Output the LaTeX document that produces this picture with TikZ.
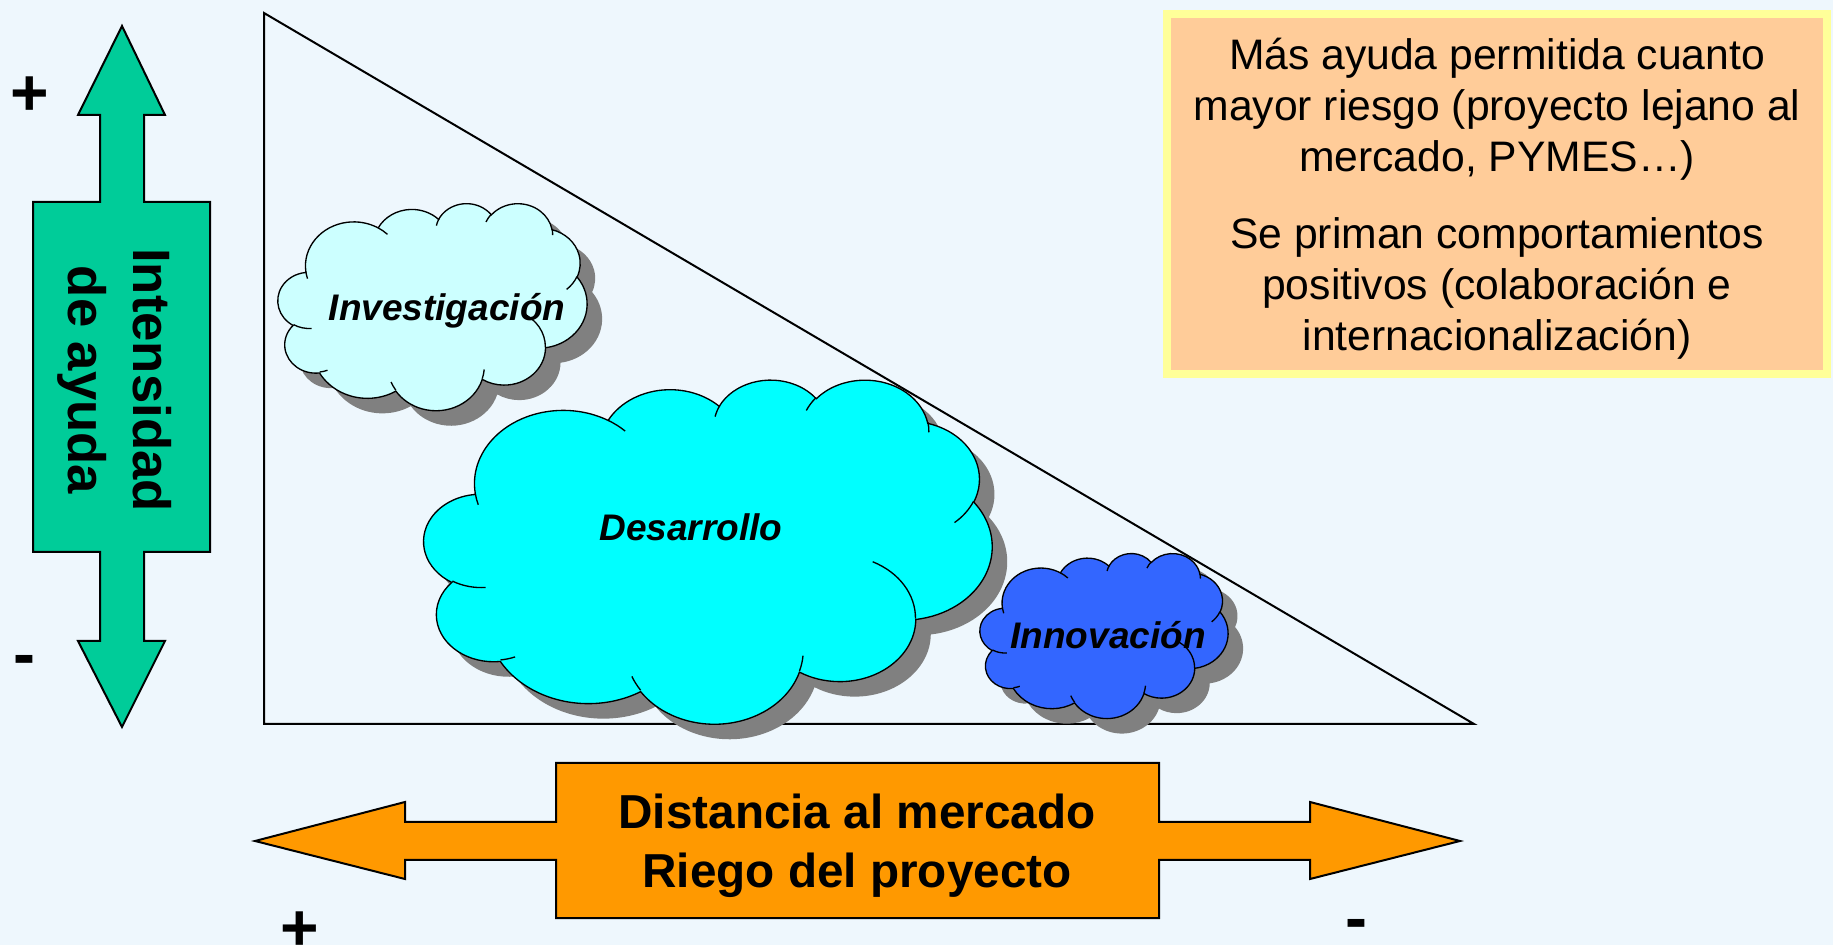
\documentclass[tikz,border=0pt]{standalone}
\usepackage{fontspec}
\setmainfont{Liberation Sans}

\definecolor{bgblue}{RGB}{238,247,253}
\definecolor{aidgreen}{RGB}{0,204,153}
\definecolor{marketorange}{RGB}{255,153,0}
\definecolor{notepeach}{RGB}{255,204,153}
\definecolor{noteyellow}{RGB}{255,255,153}
\definecolor{researchcyan}{RGB}{204,255,255}
\definecolor{devcyan}{RGB}{0,255,255}
\definecolor{innoblue}{RGB}{51,102,255}
\definecolor{shadowgray}{RGB}{128,128,128}

% one puff of the cloud: radii, start angle, sweep (angles measured as seen)
\newcommand\puff[4]{arc[x radius=#1, y radius=#2,
  start angle={atan2((#1)*sin(#3),(#2)*cos(#3))},
  delta angle={mod(atan2((#1)*sin((#3)+(#4)),(#2)*cos((#3)+(#4)))-atan2((#1)*sin(#3),(#2)*cos(#3))+720,360)}]}
% cloud outline in a 432 x 432 box
\newcommand\cloudoutline{(39.00,143.70)
  \puff{67.53}{91.90}{-190.4875}{123.7805}
  \puff{53.33}{72.67}{-144.1024}{89.9452}
  \puff{43.65}{59.45}{-145.8079}{99.7230}
  \puff{48.57}{65.95}{-130.9861}{117.2417}
  \puff{53.33}{72.73}{-78.7089}{109.0269}
  \puff{67.75}{92.20}{-46.2673}{130.2690}
  \puff{57.85}{78.67}{0.6250}{114.0333}
  \puff{67.52}{92.15}{22.4516}{115.1726}
  \puff{77.20}{105.43}{66.2426}{75.7110}
  \puff{43.60}{59.18}{-274.9421}{146.7356}
  \puff{43.45}{59.45}{-246.8285}{152.5189} -- cycle}
% the small creases inside the cloud
\newcommand\cloudcreases{(46.93,261.77) \puff{43.45}{59.45}{86.7420}{26.4295}
  (69.28,348.99) \puff{43.60}{59.18}{73.6105}{11.4475}
  (164.78,390.90) \puff{67.52}{92.15}{137.6242}{14.0811}
  (288.27,347.51) \puff{67.52}{92.15}{6.4533}{15.9984}
  (341.29,229.54) \puff{57.85}{78.67}{-70.2924}{70.9174}
  (417.98,153.54) \puff{53.33}{72.73}{30.3180}{27.7515}
  (383.24,54.26) \puff{48.57}{65.95}{-13.7443}{14.8589}
  (290.78,39.52) \puff{48.57}{65.95}{-149.1815}{18.1954}
  (221.41,47.20) \puff{43.65}{59.45}{-163.4943}{17.6864}
  (140.00,51.92) \puff{67.53}{91.90}{-66.7070}{12.3194}
  (41.27,157.89) \puff{67.53}{91.90}{157.6544}{11.8582}}
% cloud with its shadow: corner x, corner y, x unit, y unit, colour
\newcommand\drawcloud[5]{%
  \begin{scope}[shift={(#1,#2)}, x=#3, y=-#4]
    \fill[cloud_shadow, shift={(4.5pt,-4.5pt)}] \cloudoutline;
    \filldraw[cloud_body, fill=#5] \cloudoutline;
    \draw[cloud_body] \cloudcreases;
  \end{scope}}

\begin{document}
\begin{tikzpicture}[x = 0.3pt, y = -0.3pt,
cloud_shadow/.style = { fill = shadowgray },
cloud_body/.style = { draw = black, line width = 0.4pt },
cloud_txt/.style = { font = \fontsize{11.1}{13}\selectfont\bfseries\itshape, inner sep = 0pt },
big_arrow/.style = { draw = black, line width = 0.6pt },
arrow_txt/.style = { align = center, inner sep = 0pt },
sign/.style = { font = \fontsize{19.8}{22}\selectfont\bfseries, inner sep = 0pt }]
\useasboundingbox (0,0) rectangle (1833,945);
\fill[bgblue] (0,0) rectangle (1833,945);

% triangle
\draw[line width = 0.6pt] (264,13) -- (264,724) -- (1474,724) -- cycle;

% note box
\filldraw[draw = noteyellow, line width = 2.5pt, fill = notepeach] (1167,14) rectangle (1827,374);
\node[align = center, font = \fontsize{12.8}{15.3}\selectfont] (nota) at (1497,199)
{M\'as ayuda permitida cuanto\\ mayor riesgo (proyecto lejano al\\ mercado, PYMES\dots)\\[7.8pt]
Se priman comportamientos\\ positivos (colaboraci\'on e\\ internacionalizaci\'on)};

% vertical arrow
\path[big_arrow, fill = aidgreen] (122,26) -- (165,115) -- (144,115) -- (144,202) -- (210,202)
-- (210,552) -- (144,552) -- (144,641) -- (165,641) -- (122,727) -- (78,641) -- (100,641)
-- (100,552) -- (33,552) -- (33,202) -- (100,202) -- (100,115) -- (78,115) -- cycle;
\node[arrow_txt, rotate = -90, font = \fontsize{15.8}{19.5}\selectfont\bfseries] (intensidad) at (115,380)
{Intensidad\\ de ayuda};
\node[sign] (mas_ayuda) at (30,96) {+};
\node[sign] (menos_ayuda) at (24,666) {-};

% horizontal arrow
\path[big_arrow, fill = marketorange] (255,841) -- (405,802) -- (405,822) -- (556,822) -- (556,763)
-- (1159,763) -- (1159,822) -- (1310,822) -- (1310,802) -- (1460,841) -- (1310,879) -- (1310,860)
-- (1159,860) -- (1159,918) -- (556,918) -- (556,860) -- (405,860) -- (405,879) -- cycle;
\node[arrow_txt, font = \fontsize{14.3}{17.7}\selectfont\bfseries] (distancia) at (857,846)
{Distancia al mercado\\ Riego del proyecto};
\node[sign] (mas_dist) at (300,931) {+};
\node[sign] (menos_dist) at (1356,930) {-};

% clouds
\drawcloud{278}{203}{0.21458pt}{0.14375pt}{researchcyan}
\drawcloud{424}{379}{0.39444pt}{0.23889pt}{devcyan}
\drawcloud{980}{553}{0.17222pt}{0.11458pt}{innoblue}
\node[cloud_txt] (inv) at (447,311) {Investigaci\'on};
\node[cloud_txt] (des) at (691,527) {Desarrollo};
\node[cloud_txt] (inn) at (1108,635) {Innovaci\'on};
\end{tikzpicture}
\end{document}
